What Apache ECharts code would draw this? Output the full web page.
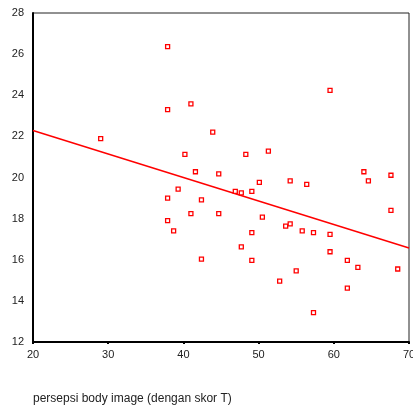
<!DOCTYPE html>
<html>
<head>
<meta charset="utf-8">
<script src="https://cdn.jsdelivr.net/npm/echarts@6/dist/echarts.min.js"></script>
<style>
  html, body { margin: 0; padding: 0; background: #fff; }
  #main { width: 413px; height: 409px; }
</style>
</head>
<body>
<div id="main"></div>
<script>
// persepsi body image (skor T) vs y
var xValues = [37.9, 37.9, 41.0, 29.0, 40.2, 41.6, 59.5, 43.9, 48.3, 51.3,
  44.7, 64.0, 67.6, 39.3, 37.9, 42.4, 41.0, 37.9, 38.7, 42.4,
  50.1, 54.2, 56.4, 64.6, 46.9, 47.7, 49.1, 44.7, 50.5, 67.6,
  53.6, 54.2, 49.1, 55.8, 57.3, 59.5, 47.7, 49.1, 59.5, 61.8,
  63.2, 68.5, 55.0, 52.8, 61.8, 57.3];
var yValues = [26.36, 23.3, 23.58, 21.89, 21.12, 20.28, 24.24, 22.21, 21.12, 21.28,
  20.18, 20.28, 20.11, 19.43, 19.0, 18.91, 18.24, 17.9, 17.4, 16.03,
  19.76, 19.84, 19.67, 19.84, 19.33, 19.25, 19.33, 18.24, 18.07, 18.4,
  17.64, 17.74, 17.32, 17.4, 17.32, 17.23, 16.63, 15.97, 16.39, 15.97,
  15.63, 15.55, 15.46, 14.96, 14.62, 13.43];
// fitted line end points
var fitX = [20, 70];
var fitY = [22.29, 16.57];

var points = xValues.map(function (x, i) { return [x, yValues[i]]; });
var fitLine = fitX.map(function (x, i) { return [x, fitY[i]]; });

var myChart = echarts.init(document.getElementById('main'));
myChart.setOption({
  animation: false,
  backgroundColor: '#fff',
  textStyle: { fontFamily: 'Liberation Sans, Arial, sans-serif' },
  title: {
    text: 'persepsi body image (dengan skor T)',
    left: 28,
    top: 388,
    textStyle: { fontSize: 12, fontWeight: 'normal', color: '#222' }
  },
  grid: {
    left: 33, right: 4, top: 13, bottom: 67,
    outerBoundsMode: 'none',
    containLabel: false,
    show: true, borderColor: '#222', borderWidth: 1
  },
  xAxis: {
    type: 'value',
    min: 20, max: 70, interval: 10,
    axisLine: { lineStyle: { color: '#000', width: 2 } },
    axisTick: { show: true, length: 2, lineStyle: { color: '#000', width: 2 } },
    axisLabel: { color: '#222', fontSize: 11, margin: 7 },
    splitLine: { show: false }
  },
  yAxis: {
    type: 'value',
    min: 12, max: 28, interval: 2,
    axisLine: { show: true, lineStyle: { color: '#000', width: 2 } },
    axisTick: { show: false },
    axisLabel: { color: '#222', fontSize: 11, margin: 9 },
    splitLine: { show: false }
  },
  series: [{
    type: 'line',
    data: fitLine,
    showSymbol: false,
    lineStyle: { color: '#f00', width: 1.5 },
    z: 1
  }, {
    type: 'scatter',
    data: points,
    symbol: 'rect',
    symbolSize: 4,
    itemStyle: { color: '#fff', borderColor: '#f00', borderWidth: 1.3, opacity: 1 },
    z: 2
  }]
});
</script>
</body>
</html>
